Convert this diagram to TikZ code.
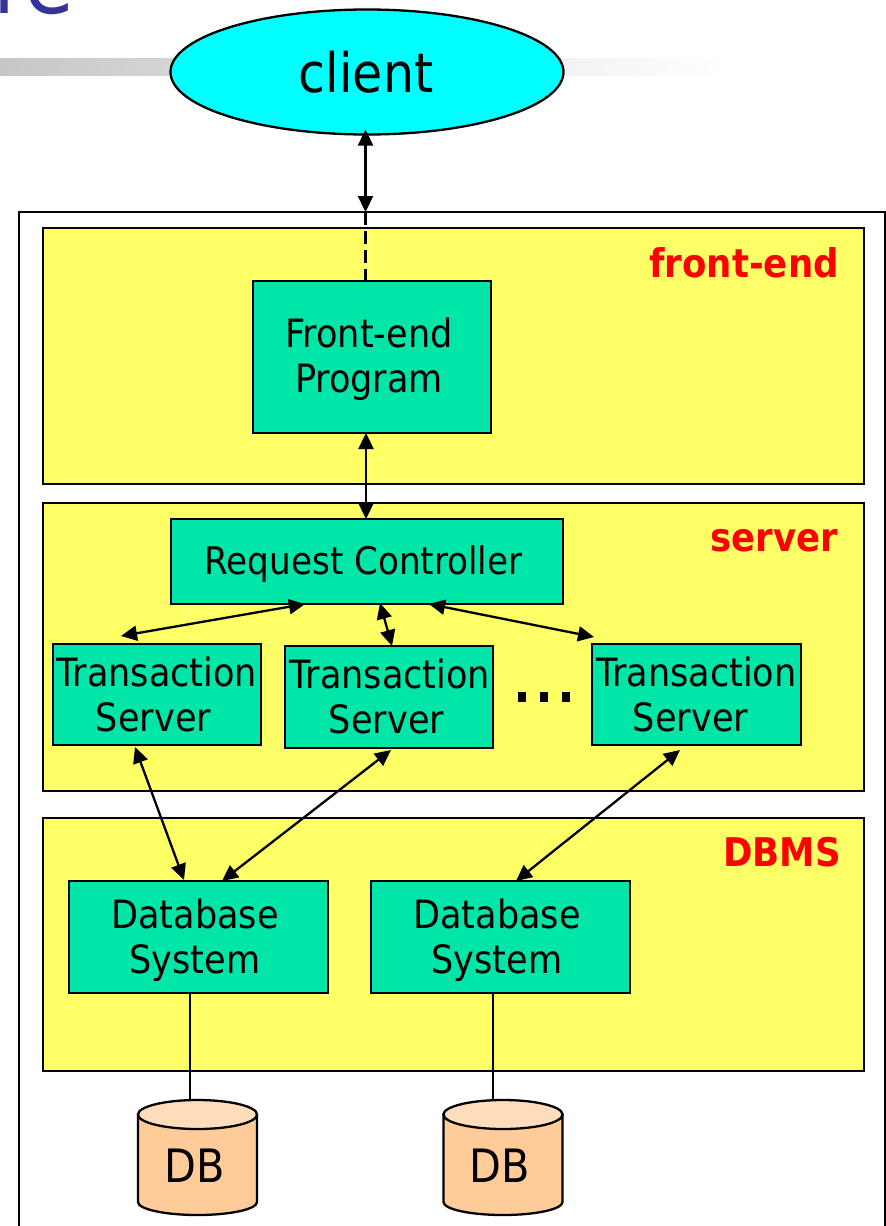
\documentclass[tikz,border=0pt]{standalone}
\usepackage{fontspec}
\setmainfont{DejaVu Sans Condensed}
\usetikzlibrary{arrows.meta,calc,shapes.geometric}
\definecolor{panelyellow}{HTML}{FFFF66}
\definecolor{boxgreen}{HTML}{00E6A8}
\definecolor{titleblue}{HTML}{333399}
\definecolor{cylbody}{HTML}{FFCC99}
\definecolor{cyltop}{HTML}{FFDDBB}
\definecolor{clientcyan}{HTML}{00FFFF}
\tikzset{
  panel/.style={draw=black,line width=2.3pt,fill=panelyellow},
  comp/.style={draw=black,line width=2.3pt,fill=boxgreen,inner sep=0pt,outer sep=0pt},
  complabel/.style={inner sep=0pt,align=center,font=\fontsize{39}{45}\selectfont},
  tag/.style={text=red,inner sep=0pt,anchor=base east,font=\fontsize{39.5}{40}\selectfont\bfseries},
  link/.style={line width=2.3pt,{Triangle[length=16pt,width=15pt]}-{Triangle[length=16pt,width=15pt]}},
  plain/.style={line width=2.3pt},
  cyllabel/.style={inner sep=0pt,outer sep=0pt,minimum width=119pt,minimum height=115pt},
  dblabel/.style={inner sep=0pt,font=\fontsize{46}{46}\selectfont},
  dot/.style={fill=black}
}
\newcommand{\cylshape}[1]{%
  \path[draw=black,line width=2.3pt,fill=cylbody]
    ($(#1.north west)+(0,14.5)$) -- ($(#1.south west)+(0,-13)$)
    arc[start angle=180,end angle=0,x radius=59.5,y radius=13]
    -- ($(#1.north east)+(0,14.5)$) -- cycle;
  \path[draw=black,line width=2.3pt,fill=cyltop]
    ($(#1.north west)+(59.5,14.5)$) ellipse[x radius=59.5,y radius=14.5];
}
\begin{document}
\begin{tikzpicture}[x=1pt,y=-1pt]
\useasboundingbox (0,0) rectangle (886,1226);
\begin{scope}
\clip (0,0) rectangle (886,1226);
\node[text=titleblue,inner sep=0pt,anchor=base west,font=\fontsize{90}{90}\selectfont] (title) at (-7,13) {re};
\shade[left color=black!22,right color=white] (0,58) rectangle (726,75.5);
\draw[line width=2.3pt,fill=white] (19,212) rectangle (885,1240);
\end{scope}
\node[draw=black,line width=2.3pt,fill=clientcyan,ellipse,inner sep=0pt,outer sep=0pt,minimum width=393pt,minimum height=125pt] (client) at (367,72) {};
\node[inner sep=0pt,font=\fontsize{54.5}{60}\selectfont] (clientlabel) at (366,72) {client};
\draw[panel] (43,228) rectangle (864,484);
\draw[panel] (43,503) rectangle (864,791);
\draw[panel] (43,818) rectangle (864,1071);
\node[tag] (tagf) at (839,277) {front-end};
\node[tag] (tags) at (838,551) {server};
\node[tag] (tagd) at (841,866) {DBMS};
\node[comp,minimum width=238pt,minimum height=152pt] (fe) at (372,357) {};
\node[complabel] (fel) at ($(fe)+(-3,2.5)$) {Front-end\\Program};
\node[comp,minimum width=392pt,minimum height=85pt] (rc) at (367,561.5) {};
\node[complabel,font=\fontsize{38}{45}\selectfont] (rcl) at ($(rc)+(-3.5,3)$) {Request Controller};
\node[comp,minimum width=208pt,minimum height=101pt] (ts1) at (157,694.5) {};
\node[complabel] (ts1l) at (ts1) {Transaction\\Server\hspace*{7pt}};
\node[comp,minimum width=208pt,minimum height=102pt] (ts2) at (389,697) {};
\node[complabel] (ts2l) at ($(ts2)+(1,-1)$) {Transaction\\Server\hspace*{7pt}};
\node[comp,minimum width=209pt,minimum height=101pt] (ts3) at (696.5,694.5) {};
\node[complabel] (ts3l) at (ts3) {Transaction\\Server\hspace*{12pt}};
\node[comp,minimum width=259pt,minimum height=112pt] (db1) at (198.5,937) {};
\node[complabel] (db1l) at ($(db1)+(-3.5,3.5)$) {Database\\System};
\node[comp,minimum width=259pt,minimum height=112pt] (db2) at (500.5,937) {};
\node[complabel] (db2l) at ($(db2)+(-3.5,3.5)$) {Database\\System};
\fill[dot] (518,692) rectangle (526,702);
\fill[dot] (540,692) rectangle (548,702);
\fill[dot] (562,692) rectangle (570,702);
\node[cyllabel] (cyl1) at (197.5,1157.5) {};
\node[cyllabel] (cyl2) at (503,1157.5) {};
\cylshape{cyl1}
\cylshape{cyl2}
\node[dblabel] (dbl1) at (195,1166) {DB};
\node[dblabel] (dbl2) at (500,1166) {DB};
% connectors
\coordinate (entry) at (365.5,212);
\coordinate (ctop) at ($(client.south)+(-1.5,-5)$);
\coordinate (feport) at ($(fe.north west)+(112.5,0)$);
\draw[link] (ctop) -- (entry);
\draw[plain,dash pattern=on 13pt off 6pt] (entry) -- (feport);
\coordinate (fesouth) at ($(fe.south west)+(113,0)$);
\coordinate (rcnorth) at ($(rc.north west)+(195,0)$);
\draw[link] (fesouth) -- (rcnorth);
\draw[link] ($(rc.south west)+(134,0)$) -- ($(ts1.north west)+(68,-8)$);
\draw[link] ($(rc.south west)+(209,-1)$) -- ($(ts2.north west)+(107,0)$);
\draw[link] ($(rc.south west)+(258,0)$) -- ($(ts3.north west)+(2,-7)$);
\draw[link] ($(ts1.south west)+(82,2)$) -- ($(db1.north west)+(115,-1)$);
\draw[link] ($(ts2.south west)+(106,2)$) -- ($(db1.north west)+(153,0)$);
\draw[link] ($(ts3.south west)+(88,5)$) -- ($(db2.north west)+(145,0)$);
\coordinate (d1s) at ($(db1.south west)+(121,0)$);
\coordinate (d2s) at ($(db2.south west)+(122,0)$);
\coordinate (c1n) at ($(cyl1.north west)+(52,0)$);
\coordinate (c2n) at ($(cyl2.north west)+(49.5,0)$);
\draw[plain] (d1s) -- (c1n);
\draw[plain] (d2s) -- (c2n);
\end{tikzpicture}
\end{document}
